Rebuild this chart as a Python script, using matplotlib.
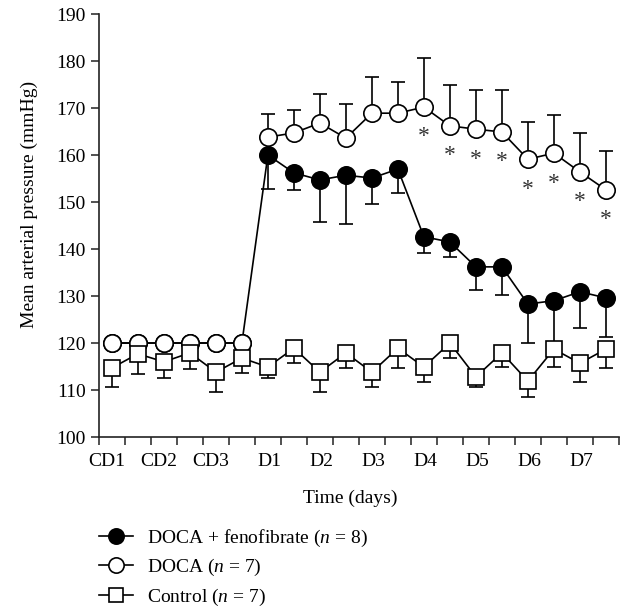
import matplotlib
matplotlib.use('Agg')
import matplotlib.pyplot as plt
from matplotlib.lines import Line2D
import numpy as np

plt.rcParams['font.family'] = ['Liberation Serif', 'DejaVu Serif']
plt.rcParams['mathtext.fontset'] = 'custom'
plt.rcParams['mathtext.rm'] = 'Liberation Serif'
plt.rcParams['mathtext.it'] = 'Liberation Serif:italic'

# ---------------- data ----------------
day_labels = ['CD1', 'CD2', 'CD3', 'D1', 'D2', 'D3', 'D4', 'D5', 'D6', 'D7']
day_label_pos = [0.3, 2.3, 4.3, 6.55, 8.55, 10.55, 12.55, 14.55, 16.55, 18.55]

n_points = 20  # two measurements per day, 3 control days + 7 DOCA days

control_mean = [114.7, 117.7, 116.0, 117.9, 113.8, 116.8, 114.9, 118.9, 113.8, 117.9,
                113.8, 118.9, 114.9, 120.0, 112.8, 117.9, 111.9, 118.7, 115.7, 118.7]
control_sem = [4.1, 4.3, 3.4, 3.4, 4.2, 3.2, 2.3, 3.2, 4.2, 3.2,
               3.2, 4.2, 3.2, 3.2, 2.2, 3.0, 3.4, 3.8, 4.0, 4.0]

doca_mean = [120.0, 120.0, 120.0, 120.0, 120.0, 120.0,
             163.8, 164.7, 166.8, 163.6, 168.9, 168.9, 170.2, 166.2, 165.5, 164.9,
             159.1, 160.4, 156.4, 152.6]
doca_sem = [0, 0, 0, 0, 0, 0,
            4.9, 4.9, 6.2, 7.3, 7.7, 6.6, 10.4, 8.7, 8.3, 8.9, 7.9, 8.1, 8.3, 8.3]

feno_mean = [120.0, 120.0, 120.0, 120.0, 120.0, 120.0,
             160.0, 156.2, 154.7, 155.7, 155.1, 157.0, 142.6, 141.5, 136.2, 136.2,
             128.3, 129.0, 130.9, 129.6]
feno_sem = [0, 0, 0, 0, 0, 0,
            7.2, 3.7, 9.0, 10.4, 5.5, 5.1, 3.5, 3.2, 4.9, 6.0, 8.3, 10.0, 7.7, 8.3]

star_idx = [12, 13, 14, 15, 16, 17, 18, 19]
n_cd = 6

labels = ['DOCA + fenofibrate ($n$ = 8)', 'DOCA ($n$ = 7)', 'Control ($n$ = 7)']

# ---------------- figure ----------------
fig = plt.figure(figsize=(6.22, 6.09), dpi=100)
ax = fig.add_axes([0.159, 0.2824, 0.836, 0.6946])

x = np.arange(n_points) + 0.5
cm = np.array(control_mean); cs = np.array(control_sem)
dm = np.array(doca_mean); ds = np.array(doca_sem)
fm = np.array(feno_mean); fs = np.array(feno_sem)
zero = np.zeros(n_points)

lw = 1.2
cap = 5
fs_txt = 14

# DOCA (D phase), below fenofibrate
ax.errorbar(x[n_cd:], dm[n_cd:], yerr=[zero[n_cd:], ds[n_cd:]], fmt='none',
            ecolor='black', elinewidth=lw, capsize=cap, capthick=lw, zorder=1.0)
ax.plot(x[n_cd:], dm[n_cd:], '-o', color='black', mfc='white', mec='black',
        ms=12.5, mew=lw, lw=lw, zorder=1.5)

# DOCA + fenofibrate
ax.errorbar(x[n_cd:], fm[n_cd:], yerr=[fs[n_cd:], zero[n_cd:]], fmt='none',
            ecolor='black', elinewidth=lw, capsize=cap, capthick=lw, zorder=2.0)
ax.plot(x, fm, '-o', color='black', mfc='black', mec='black',
        ms=12.5, mew=lw, lw=lw, zorder=2.5)

# DOCA (control-day phase) on top of fenofibrate
ax.plot(x[:n_cd], dm[:n_cd], '-o', color='black', mfc='white', mec='black',
        ms=12.5, mew=lw, lw=lw, zorder=3.0)

# Control
ax.errorbar(x, cm, yerr=[cs, zero], fmt='none',
            ecolor='black', elinewidth=lw, capsize=cap, capthick=lw, zorder=3.5)
ax.plot(x, cm, '-s', color='black', mfc='white', mec='black',
        ms=11, mew=lw, lw=lw, zorder=4.0)

# significance stars
for i in star_idx:
    ax.annotate('*', (x[i], dm[i]), xytext=(0, -25.5), textcoords='offset points',
                ha='center', va='baseline', fontsize=17, color='#333333')

# axes styling
ax.set_xlim(0, n_points)
ax.set_ylim(100, 190)
ax.set_xticks(np.arange(0, n_points + 1))
ax.set_xticklabels([])
ax.set_yticks(np.arange(100, 191, 10))
ax.tick_params(axis='both', direction='out', length=6, width=1.1, labelsize=fs_txt,
               color='#222222')
for s in ['top', 'right']:
    ax.spines[s].set_visible(False)
for s in ['left', 'bottom']:
    ax.spines[s].set_linewidth(1.2)
    ax.spines[s].set_color('#222222')

trans = ax.get_xaxis_transform()
for p, lab in zip(day_label_pos, day_labels):
    ax.text(p, -0.057, lab, transform=trans, ha='center', va='center', fontsize=fs_txt)

ax.set_xlabel('Time (days)', fontsize=fs_txt)
ax.xaxis.set_label_coords(0.483, -0.125)
ax.set_ylabel('Mean arterial pressure (mmHg)', fontsize=fs_txt)
ax.yaxis.set_label_coords(-0.117, 0.551)

handles = [
    Line2D([], [], color='black', marker='o', mfc='black', mec='black', ms=11, mew=lw, lw=lw),
    Line2D([], [], color='black', marker='o', mfc='white', mec='black', ms=11, mew=lw, lw=lw),
    Line2D([], [], color='black', marker='s', mfc='white', mec='black', ms=10, mew=lw, lw=lw),
]
fig.legend(handles, labels, loc='upper left', bbox_to_anchor=(0.159, 0.134),
           frameon=False, fontsize=fs_txt, handlelength=1.75, handletextpad=0.72,
           labelspacing=0.44, borderpad=0, borderaxespad=0, numpoints=1)

fig.savefig('out.png', dpi=100)
